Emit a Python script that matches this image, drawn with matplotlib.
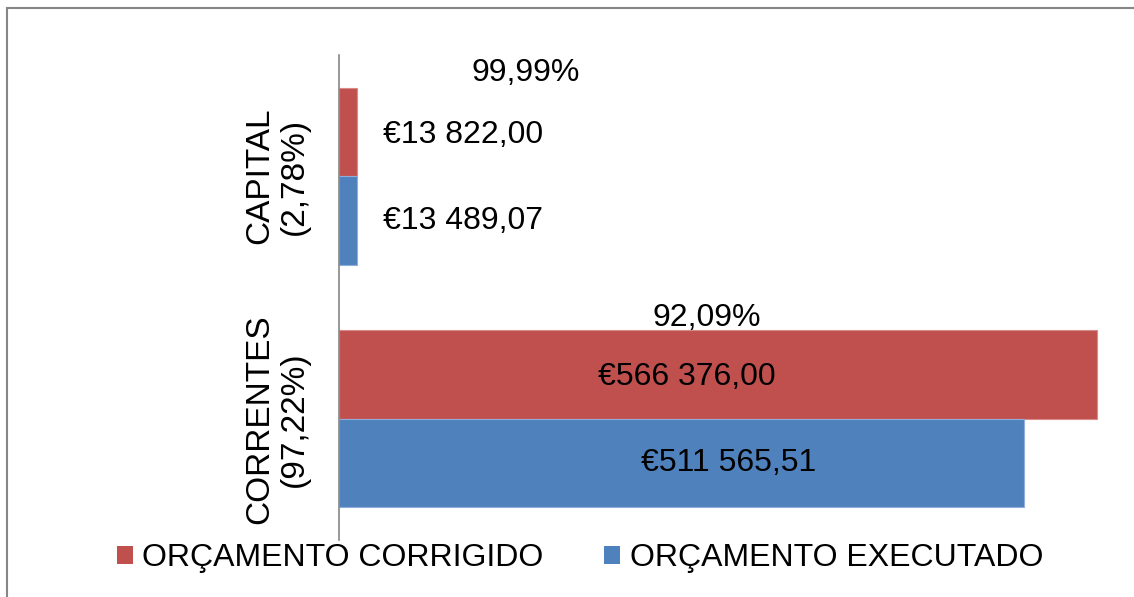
import matplotlib
matplotlib.use("Agg")
import matplotlib.pyplot as plt
import matplotlib.transforms as mtransforms
from matplotlib.patches import Patch, Rectangle

plt.rcParams['font.family'] = ['Liberation Sans', 'DejaVu Sans']

# data
categories = ["CORRENTES\n(97,22%)", "CAPITAL\n(2,78%)"]
corrigido = [566376.00, 13822.00]
executado = [511565.51, 13489.07]
corrigido_labels = ["€566 376,00", "€13 822,00"]
executado_labels = ["€511 565,51", "€13 489,07"]
pct_labels = ["92,09%", "99,99%"]

red = "#C0504D"
blue = "#4F81BD"
fs = 23

fig = plt.figure(figsize=(11.34, 5.97), dpi=100)
ax = fig.add_axes([339/1134, 1 - 540/597, 1 - 339/1134, 485/597])

h = 0.364
y = [0, 1]
ax.barh([v + h/2 for v in y], corrigido, height=h, color=red, edgecolor="#D88C8A", linewidth=0.8)
ax.barh([v - h/2 for v in y], executado, height=h, color=blue, edgecolor="#8FAEDA", linewidth=0.8)

ax.set_xlim(0, 594029)
ax.set_ylim(-0.5, 1.5)

for s in ["top", "right", "bottom"]:
    ax.spines[s].set_visible(False)
ax.spines["left"].set_color("#868686")
ax.spines["left"].set_linewidth(1.2)
ax.set_xticks([])
ax.set_yticks([])

# value labels (placed as in the original, roughly)
ax.text(260000, 0 + 0.173, corrigido_labels[0], ha="center", va="center", fontsize=fs)
ax.text(291400, 0 - 0.181, executado_labels[0], ha="center", va="center", fontsize=fs)
ax.text(32900, 1 + 0.169, corrigido_labels[1], ha="left", va="center", fontsize=fs)
ax.text(32900, 1 - 0.185, executado_labels[1], ha="left", va="center", fontsize=fs)
ax.text(275000, 0 + 0.416, pct_labels[0], ha="center", va="center", fontsize=fs)
ax.text(139700, 1 + 0.424, pct_labels[1], ha="center", va="center", fontsize=fs)

# category labels
tr = mtransforms.blended_transform_factory(fig.transFigure, ax.transData)
for yy, lab in zip(y, categories):
    ax.text(277/1134, yy, lab, transform=tr, rotation=90, ha="center", va="center",
            multialignment="center", fontsize=fs + 1, linespacing=1.15)

handles = [Patch(facecolor=red, label="ORÇAMENTO CORRIGIDO"),
           Patch(facecolor=blue, label="ORÇAMENTO EXECUTADO")]
fig.legend(handles=handles, loc="center", bbox_to_anchor=(580/1134, 1 - 558/597), ncol=2,
           frameon=False, fontsize=fs, handlelength=0.5, handleheight=0.5,
           handletextpad=0.3, columnspacing=1.9)

# outer chart border
fig.add_artist(Rectangle((7/1134, -0.1), 1.2, 1 - 8/597 + 0.1, transform=fig.transFigure,
                         fill=False, edgecolor="#868686", linewidth=1.5))

fig.savefig("out.png", dpi=100)
